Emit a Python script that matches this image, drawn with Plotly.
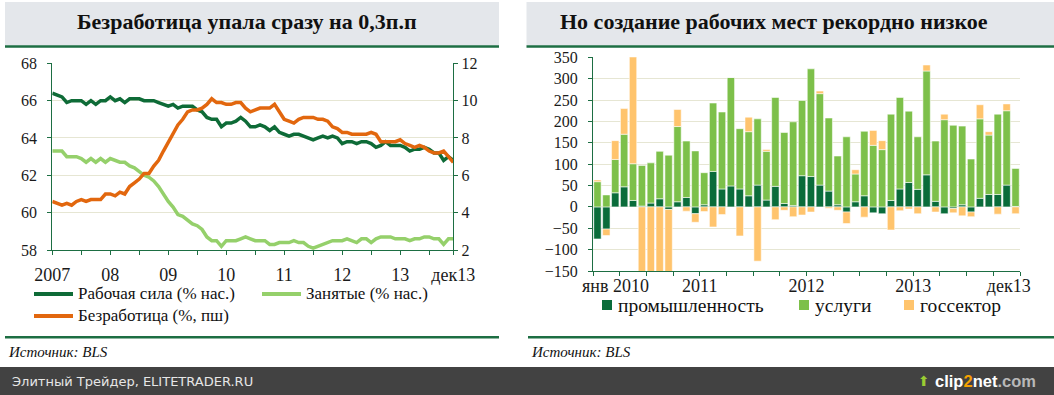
import plotly.graph_objects as go

W, H = 1054, 395


def px(x):
    return x / W


def py(y):
    return 1 - y / H


# ---------------- data: left chart (monthly, Jan 2007 .. Dec 2013) ----------------
left_months = list(range(84))
labour_force = [
    66.4, 66.3, 66.2, 65.9, 66.0, 66.0, 66.0, 65.8, 66.0, 65.8, 66.0, 66.0,
    66.2, 66.0, 66.1, 65.9, 66.1, 66.1, 66.1, 66.0, 66.0, 66.0, 65.9, 65.8,
    65.7, 65.8, 65.6, 65.7, 65.7, 65.7, 65.5, 65.4, 65.1, 65.0, 65.0, 64.6,
    64.8, 64.8, 64.9, 65.1, 64.9, 64.6, 64.6, 64.7, 64.6, 64.4, 64.6, 64.3,
    64.2, 64.1, 64.2, 64.2, 64.1, 64.0, 63.9, 64.0, 64.1, 64.0, 64.1, 64.0,
    63.7, 63.8, 63.8, 63.7, 63.8, 63.8, 63.7, 63.5, 63.6, 63.8, 63.6, 63.6,
    63.6, 63.5, 63.3, 63.4, 63.4, 63.5, 63.4, 63.2, 63.2, 62.8, 63.0, 62.8,
]
employed = [
    63.3, 63.3, 63.3, 63.0, 63.0, 63.0, 62.9, 62.7, 62.9, 62.7, 62.9, 62.7,
    62.9, 62.8, 62.7, 62.7, 62.5, 62.4, 62.2, 62.0, 61.9, 61.7, 61.4, 61.0,
    60.6, 60.3, 59.9, 59.8, 59.6, 59.4, 59.3, 59.1, 58.7, 58.5, 58.5, 58.2,
    58.5, 58.5, 58.5, 58.6, 58.7, 58.6, 58.5, 58.5, 58.5, 58.3, 58.3, 58.4,
    58.4, 58.4, 58.5, 58.4, 58.4, 58.2, 58.1, 58.2, 58.3, 58.4, 58.5, 58.5,
    58.5, 58.6, 58.5, 58.4, 58.6, 58.6, 58.4, 58.6, 58.7, 58.7, 58.7, 58.6,
    58.6, 58.6, 58.5, 58.6, 58.6, 58.7, 58.7, 58.6, 58.6, 58.3, 58.6, 58.6,
]
unemployment = [
    4.6, 4.5, 4.4, 4.5, 4.4, 4.6, 4.7, 4.6, 4.7, 4.7, 4.7, 5.0,
    5.0, 4.9, 5.1, 5.0, 5.4, 5.6, 5.8, 6.1, 6.1, 6.5, 6.8, 7.3,
    7.8, 8.3, 8.7, 9.0, 9.4, 9.5, 9.5, 9.6, 9.8, 10.1, 9.9, 9.9,
    9.8, 9.8, 9.9, 9.9, 9.6, 9.4, 9.5, 9.6, 9.6, 9.6, 9.8, 9.4,
    9.0, 8.9, 8.8, 9.0, 9.1, 9.1, 9.1, 9.0, 9.0, 8.9, 8.6, 8.5,
    8.3, 8.3, 8.2, 8.2, 8.2, 8.2, 8.3, 8.2, 7.8, 7.8, 7.8, 7.8,
    7.9, 7.7, 7.6, 7.5, 7.6, 7.5, 7.3, 7.2, 7.2, 7.3, 7.0, 6.7,
]
left_tickvals = [0, 12, 24, 36, 48, 60, 72, 83]
left_ticktext = ["2007", "08", "09", "10", "11", "12", "13", "дек13"]
left_names = ["Рабочая сила (% нас.)", "Занятые (% нас.)", "Безработица (%, пш)"]

# ---------------- data: right chart (monthly job creation, Jan 2010 .. Dec 2013) ----------------
bar_months = list(range(48))
industry = [
    -75, -52, 33, 47, 15, 2, 9, 19, -6, 12, 22, -16,
    5, 83, 42, 49, 42, 26, 51, 16, 48, 8, 3, 73,
    71, 51, 37, 5, -12, 12, 26, -14, -16, 15, 42, 57,
    41, 75, 13, -16, -4, 5, -12, 20, 29, 29, 51, 1,
]
services = [
    59, 28, 78, 123, 86, 95, 94, 111, 121, 176, 132, 131,
    75, 160, 180, 254, 141, 150, 155, 114, 208, 166, 196, 176,
    252, 214, 171, 114, 164, 65, 151, 144, 134, 202, 214, 167,
    123, 243, 141, 204, 191, 184, 112, 186, 139, 188, 174, 89,
]
government = [
    4, -15, 44, 60, 330, -210, -180, -160, -170, 40, -10, -20,
    -11, -47, -18, 0, -68, 34, -127, 4, -30, -8, -23, -19,
    -12, 6, -3, -8, -27, 10, -24, 35, 21, -54, -9, -5,
    -16, 14, -12, 13, -10, -21, -11, 33, 8, -17, 16, -16,
]
bar_names = ["промышленность", "услуги", "госсектор"]
bar_tickvals = [-0.5, 2.5, 5.5, 8.5, 11.5, 14.5, 17.5, 20.5, 23.5, 26.5,
                29.5, 32.5, 35.5, 38.5, 41.5, 44.5, 47.5]
NB = "\u00a0"
bar_ticktext = [NB * 10 + "янв 2010", "", "", "", "2011", "", "", "", "2012", "",
                "", "", "2013", "", "", "", "дек13" + NB * 5]

# ---------------- styles ----------------
SERIF = "Liberation Serif"
AXIS = "#1d6e43"
GRID = "#e6e6d3"
C_LF, C_EMP, C_UN = "#0e6b37", "#95d06b", "#e2670e"
C_IND, C_SRV, C_GOV = "#0a6c3a", "#7dc04a", "#ffc46d"
TITLE_BG = "#e4e7eb"

fig = go.Figure()

fig.add_trace(go.Scatter(x=left_months, y=labour_force, name=left_names[0], mode="lines",
                         line=dict(color=C_LF, width=3.5), xaxis="x", yaxis="y"))
fig.add_trace(go.Scatter(x=left_months, y=employed, name=left_names[1], mode="lines",
                         line=dict(color=C_EMP, width=3.5), xaxis="x", yaxis="y"))
fig.add_trace(go.Scatter(x=left_months, y=unemployment, name=left_names[2], mode="lines",
                         line=dict(color=C_UN, width=3.5), xaxis="x", yaxis="y2"))

for vals, name, col in [(industry, bar_names[0], C_IND), (services, bar_names[1], C_SRV),
                        (government, bar_names[2], C_GOV)]:
    fig.add_trace(go.Bar(x=bar_months, y=vals, name=name, marker=dict(color=col,
                         line=dict(color="rgba(255,255,255,0.55)", width=1)),
                         xaxis="x2", yaxis="y3"))

tick_y = dict(family=SERIF, size=16, color="#1a1a1a")
tick_x = dict(family=SERIF, size=18, color="#1a1a1a")

fig.update_layout(
    width=W, height=H, margin=dict(l=0, r=0, t=0, b=0, pad=0, autoexpand=False),
    paper_bgcolor="white", plot_bgcolor="white", showlegend=False,
    barmode="relative", bargap=0.17,
    xaxis=dict(domain=[px(52.3), px(453.3)], range=[0, 83], anchor="y", automargin=False,
               tickvals=left_tickvals, ticktext=left_ticktext, tickfont=tick_x,
               ticks="outside", ticklen=4, tickcolor=AXIS, showgrid=False,
               showline=True, linecolor=AXIS, linewidth=1, ticklabelstandoff=4,
               minor=dict(dtick=6, tick0=0, ticks="outside", ticklen=4, tickcolor=AXIS, showgrid=False),
               zeroline=False),
    yaxis=dict(domain=[py(250), py(63.3)], range=[58, 68], dtick=2, anchor="x", automargin=False,
               tickfont=tick_y, ticks="outside", ticklen=4, tickcolor=AXIS,
               showline=True, linecolor=AXIS, linewidth=1, showgrid=True,
               gridcolor=GRID, gridwidth=1, zeroline=False, ticklabelstandoff=7),
    yaxis2=dict(range=[2, 12], dtick=2, overlaying="y", side="right", anchor="x", automargin=False,
                tickfont=tick_y, ticks="outside", ticklen=4, tickcolor=AXIS,
                showline=True, linecolor=AXIS, linewidth=1, showgrid=False, zeroline=False),
    xaxis2=dict(domain=[px(593), px(1020)], range=[-0.5, 47.5], anchor="y3", automargin=False,
                tickvals=bar_tickvals, ticktext=bar_ticktext, tickfont=tick_x,
                ticks="outside", ticklen=4, tickcolor=AXIS, showgrid=False,
                showline=True, linecolor=AXIS, linewidth=1, zeroline=False,
                ticklabelstandoff=-6),
    yaxis3=dict(domain=[py(271), py(57.3)], range=[-150, 350], dtick=50, anchor="x2", automargin=False,
                tickfont=tick_y, ticks="outside", ticklen=4, tickcolor=AXIS,
                showline=True, linecolor=AXIS, linewidth=1, showgrid=True,
                gridcolor=GRID, gridwidth=1, zeroline=False, ticklabelstandoff=7),
)

shapes = []
annotations = []

# title boxes
for x0, x1, title, cx in [(5, 499, "Безработица упала сразу на 0,3п.п", 247),
                          (526.5, 1054, "Но создание рабочих мест рекордно низкое", 774)]:
    shapes.append(dict(type="rect", xref="paper", yref="paper", x0=px(x0), x1=px(x1),
                       y0=py(45.5), y1=py(2), fillcolor=TITLE_BG, line=dict(width=0), layer="below"))
    shapes.append(dict(type="line", xref="paper", yref="paper", x0=px(x0), x1=px(x1),
                       y0=py(46.5), y1=py(46.5), line=dict(color=AXIS, width=2.5)))
    annotations.append(dict(xref="paper", yref="paper", x=px(cx), y=py(22), text="<b>" + title + "</b>",
                            showarrow=False, xanchor="center", yanchor="middle",
                            font=dict(family=SERIF, size=22, color="#111")))

# separators + sources
for x0, x1 in [(5, 499), (528, 1054)]:
    shapes.append(dict(type="line", xref="paper", yref="paper", x0=px(x0), x1=px(x1),
                       y0=py(337.3), y1=py(337.3), line=dict(color=AXIS, width=2.5)))
    annotations.append(dict(xref="paper", yref="paper", x=px(x0 + 1), y=py(352), text="<i>Источник: BLS</i>",
                            showarrow=False, xanchor="left", yanchor="middle",
                            font=dict(family=SERIF, size=15, color="#111")))

# left legend (line swatches)
for (lx, ly), name, col in zip([(34, 294), (262, 294), (34, 316)], left_names, [C_LF, C_EMP, C_UN]):
    shapes.append(dict(type="line", xref="paper", yref="paper", x0=px(lx), x1=px(lx + 39),
                       y0=py(ly), y1=py(ly), line=dict(color=col, width=4)))
    annotations.append(dict(xref="paper", yref="paper", x=px(lx + 42), y=py(ly - 1), text=name,
                            showarrow=False, xanchor="left", yanchor="middle",
                            font=dict(family=SERIF, size=17, color="#111")))

# right legend (square swatches)
for sx, name, col in zip([602, 799, 904], bar_names, [C_IND, C_SRV, C_GOV]):
    shapes.append(dict(type="rect", xref="paper", yref="paper", x0=px(sx), x1=px(sx + 10),
                       y0=py(310), y1=py(300), fillcolor=col, line=dict(width=0)))
    annotations.append(dict(xref="paper", yref="paper", x=px(sx + 14), y=py(305), text=name,
                            showarrow=False, xanchor="left", yanchor="middle",
                            font=dict(family=SERIF, size=19.5, color="#111")))

# footer band
shapes.append(dict(type="rect", xref="paper", yref="paper", x0=0, x1=1, y0=0, y1=py(367),
                   fillcolor="#424242", line=dict(width=0)))
annotations.append(dict(xref="paper", yref="paper", x=px(10), y=py(381),
                        text="Элитный Трейдер, ELITETRADER.RU", showarrow=False,
                        xanchor="left", yanchor="middle",
                        font=dict(family="DejaVu Sans", size=13, color="#e6e6e6")))
annotations.append(dict(xref="paper", yref="paper", x=px(1038), y=py(381),
                        text="<b>clip<span style='color:#f5a100'>2</span>net<span style='color:#b8b8b8'>.com</span></b>",
                        showarrow=False, xanchor="right", yanchor="middle",
                        font=dict(family="Liberation Sans", size=16.5, color="#ffffff")))
annotations.append(dict(xref="paper", yref="paper", x=px(924), y=py(381),
                        text="⬆", showarrow=False, xanchor="center", yanchor="middle",
                        font=dict(family="DejaVu Sans", size=14, color="#9acd32")))

fig.update_layout(shapes=shapes, annotations=annotations)
fig.write_html("out.html", config={"displayModeBar": False, "staticPlot": True},
               post_script="document.body.style.margin='0';document.body.style.overflow='hidden';")
